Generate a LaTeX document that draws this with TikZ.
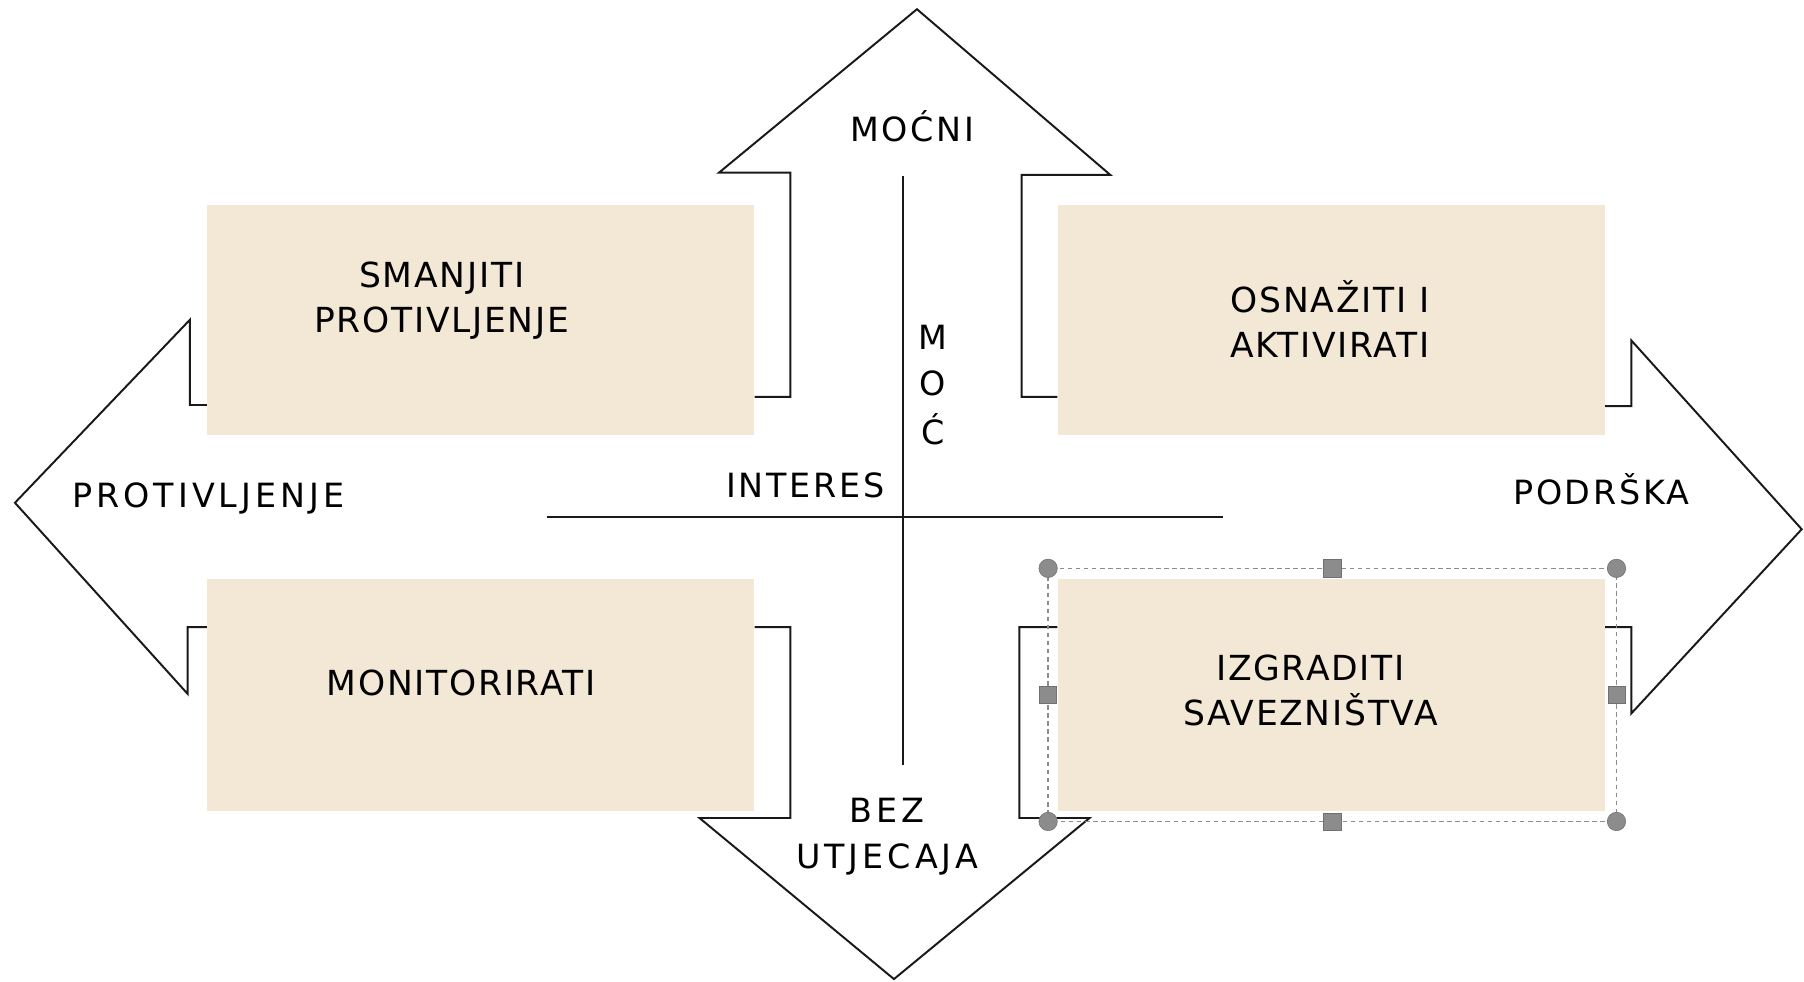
\documentclass[tikz,border=0pt]{standalone}
\usepackage{fontspec}
\setmainfont{DejaVu Sans}
\newfontfamily\arrowfont[LetterSpace=8]{DejaVu Sans}
\newfontfamily\arrowwidefont[LetterSpace=12]{DejaVu Sans}
\newfontfamily\boxfont[LetterSpace=5]{DejaVu Sans}
\definecolor{boxc}{RGB}{243,232,214}
\definecolor{linec}{RGB}{25,25,25}
\definecolor{handc}{RGB}{140,140,140}
\begin{document}
\begin{tikzpicture}[x=1pt,y=-1pt,
  outl/.style={draw=linec,line width=1.7pt,line join=miter},
  boxst/.style={fill=boxc,inner sep=0pt,minimum width=475pt},
  atext/.style={font=\arrowfont\fontsize{29}{40}\selectfont,align=center,inner sep=0pt,text=black},
  btext/.style={font=\boxfont\fontsize{30}{39}\selectfont,align=center,inner sep=0pt,text=black},
  selrect/.style={draw=handc,line width=1.1pt,dash pattern=on 4pt off 3pt},
  handround/.style={circle,fill=handc,draw=handc!80!black,line width=0.5pt,inner sep=0pt,minimum size=16pt},
  handsq/.style={rectangle,fill=handc,draw=handc!80!black,line width=0.5pt,inner sep=0pt,minimum size=15pt}]
\useasboundingbox (0,0) rectangle (1568,853);
% arrows (open outlines, ends hidden by boxes)
\draw[outl] (656,345) -- (687,345) -- (687,150) -- (625,150) -- (797,8) -- (965,152) -- (888,152) -- (888,345) -- (919,345);
\draw[outl] (181,352) -- (165,352) -- (165,278) -- (13,437) -- (163,603) -- (163,545) -- (181,545);
\draw[outl] (1394,353) -- (1418,353) -- (1418,296) -- (1566,460) -- (1418,620) -- (1418,545) -- (1394,545);
\draw[outl] (656,545) -- (687,545) -- (687,711) -- (608,711) -- (777,851) -- (947,711) -- (886,711) -- (886,545) -- (919,545);
% boxes
\node[boxst,minimum height=200pt] (b1) at (417.5,278) {};
\node[boxst,minimum height=200pt] (b2) at (1157.5,278) {};
\node[boxst,minimum height=202pt] (b3) at (417.5,604) {};
\node[boxst,minimum height=202pt] (b4) at (1157.5,604) {};
% cross
\draw[outl] (785,153) -- (785,665);
\draw[outl] (475,449) -- (1063,449);
% selection handles
\draw[selrect] (911,494) rectangle (1405,714);
\node[handround] (h1) at (911,494) {};
\node[handround] (h2) at (1405,494) {};
\node[handround] (h3) at (911,714) {};
\node[handround] (h4) at (1405,714) {};
\node[handsq] (h5) at (1158,494) {};
\node[handsq] (h6) at (1158,714) {};
\node[handsq] (h7) at (911,604) {};
\node[handsq] (h8) at (1405,604) {};
% box texts
\node[btext] (tb1) at (384,261) {SMANJITI\\PROTIVLJENJE};
\node[btext] (tb2) at (1156,277) {OSNAŽITI I\\AKTIVIRATI};
\node[btext] (tb3) at (401,594) {MONITORIRATI};
\node[btext] (tb4) at (1139,600) {IZGRADITI\\SAVEZNIŠTVA};
% arrow texts
\node[atext] (ta1) at (793,110) {MOĆNI};
\node[atext,font=\arrowwidefont\fontsize{29}{40}\selectfont] (ta2) at (181,433) {PROTIVLJENJE};
\node[atext] (ta3) at (1392,425) {PODRŠKA};
\node[atext,font=\arrowwidefont\fontsize{29}{40}\selectfont] (ta4) at (771,727) {BEZ\\UTJECAJA};
\node[atext] (ta5) at (700,422) {INTERES};
\node[atext] (m1) at (811,293) {M};
\node[atext] (m2) at (811,333) {O};
\node[atext] (m3) at (811,373) {Ć};
\end{tikzpicture}
\end{document}
